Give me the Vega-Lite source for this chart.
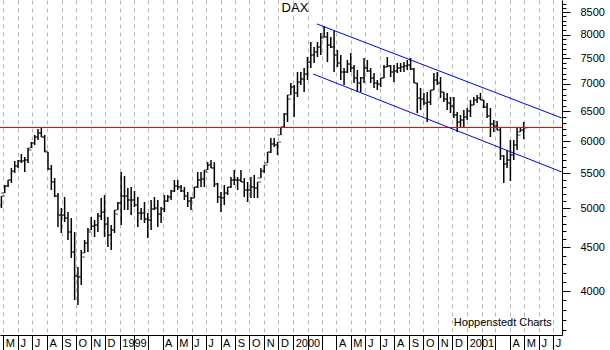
{
  "$schema": "https://vega.github.io/schema/vega-lite/v6.json",
  "width": 562,
  "height": 335,
  "autosize": {"type": "none"},
  "padding": {"left": 0, "top": 0, "right": 48, "bottom": 15},
  "background": "white",
  "config": {"view": {"stroke": null}, "font": "Liberation Sans"},
  "datasets": {
    "ohlc": [
      {"d":"1998-04-27","o":5047,"h":5171,"l":5006,"c":5171},
      {"d":"1998-05-04","o":5213,"h":5327,"l":5213,"c":5313},
      {"d":"1998-05-11","o":5313,"h":5400,"l":5299,"c":5400},
      {"d":"1998-05-18","o":5400,"h":5578,"l":5356,"c":5533},
      {"d":"1998-05-25","o":5533,"h":5685,"l":5503,"c":5608},
      {"d":"1998-06-01","o":5608,"h":5700,"l":5578,"c":5685},
      {"d":"1998-06-08","o":5685,"h":5793,"l":5654,"c":5685},
      {"d":"1998-06-15","o":5685,"h":5746,"l":5518,"c":5700},
      {"d":"1998-06-22","o":5700,"h":5888,"l":5654,"c":5856},
      {"d":"1998-06-29","o":5888,"h":5984,"l":5888,"c":5968},
      {"d":"1998-07-06","o":5968,"h":6098,"l":5936,"c":6065},
      {"d":"1998-07-13","o":6065,"h":6198,"l":6016,"c":6131},
      {"d":"1998-07-20","o":6131,"h":6215,"l":6065,"c":6065},
      {"d":"1998-07-27","o":6065,"h":6098,"l":5824,"c":5840},
      {"d":"1998-08-03","o":5824,"h":5824,"l":5548,"c":5563},
      {"d":"1998-08-10","o":5563,"h":5623,"l":5256,"c":5371},
      {"d":"1998-08-17","o":5371,"h":5429,"l":5157,"c":5171},
      {"d":"1998-08-24","o":5171,"h":5213,"l":4755,"c":4912},
      {"d":"1998-08-31","o":4912,"h":5006,"l":4679,"c":4912},
      {"d":"1998-09-07","o":4912,"h":5157,"l":4820,"c":4872},
      {"d":"1998-09-14","o":4872,"h":4952,"l":4591,"c":4692},
      {"d":"1998-09-21","o":4692,"h":4872,"l":4374,"c":4445},
      {"d":"1998-09-28","o":4445,"h":4692,"l":3904,"c":4166},
      {"d":"1998-10-05","o":4166,"h":4268,"l":3852,"c":4155},
      {"d":"1998-10-12","o":4155,"h":4469,"l":4066,"c":4385},
      {"d":"1998-10-19","o":4433,"h":4591,"l":4433,"c":4554},
      {"d":"1998-10-26","o":4554,"h":4743,"l":4445,"c":4692},
      {"d":"1998-11-02","o":4717,"h":4886,"l":4717,"c":4768},
      {"d":"1998-11-09","o":4768,"h":4846,"l":4629,"c":4781},
      {"d":"1998-11-16","o":4781,"h":4939,"l":4692,"c":4899},
      {"d":"1998-11-23","o":4899,"h":5144,"l":4846,"c":4952},
      {"d":"1998-11-30","o":4952,"h":5185,"l":4629,"c":4794},
      {"d":"1998-12-07","o":4794,"h":4886,"l":4506,"c":4654},
      {"d":"1998-12-14","o":4654,"h":4781,"l":4469,"c":4717},
      {"d":"1998-12-21","o":4717,"h":4979,"l":4679,"c":4925},
      {"d":"1998-12-28","o":4979,"h":5088,"l":4979,"c":5075},
      {"d":"1999-01-04","o":5075,"h":5518,"l":4781,"c":5171},
      {"d":"1999-01-11","o":5171,"h":5458,"l":4979,"c":5171},
      {"d":"1999-01-18","o":5171,"h":5284,"l":4979,"c":5116},
      {"d":"1999-01-25","o":5116,"h":5299,"l":4912,"c":5116},
      {"d":"1999-02-01","o":5116,"h":5242,"l":5020,"c":5047},
      {"d":"1999-02-08","o":5047,"h":5157,"l":4755,"c":4939},
      {"d":"1999-02-15","o":4939,"h":5006,"l":4846,"c":4939},
      {"d":"1999-02-22","o":4939,"h":5088,"l":4807,"c":4859},
      {"d":"1999-03-01","o":4859,"h":4939,"l":4616,"c":4846},
      {"d":"1999-03-08","o":4846,"h":5116,"l":4717,"c":4993},
      {"d":"1999-03-15","o":4993,"h":5157,"l":4979,"c":5006},
      {"d":"1999-03-22","o":5006,"h":5116,"l":4755,"c":4925},
      {"d":"1999-03-29","o":4925,"h":5020,"l":4807,"c":4993},
      {"d":"1999-04-05","o":4993,"h":5185,"l":4952,"c":5102},
      {"d":"1999-04-12","o":5102,"h":5185,"l":5088,"c":5157},
      {"d":"1999-04-19","o":5157,"h":5256,"l":5116,"c":5242},
      {"d":"1999-04-26","o":5242,"h":5400,"l":5228,"c":5313},
      {"d":"1999-05-03","o":5313,"h":5400,"l":5256,"c":5299},
      {"d":"1999-05-10","o":5299,"h":5327,"l":5228,"c":5242},
      {"d":"1999-05-17","o":5242,"h":5299,"l":5116,"c":5171},
      {"d":"1999-05-24","o":5171,"h":5228,"l":5020,"c":5102},
      {"d":"1999-05-31","o":5102,"h":5157,"l":4979,"c":5144},
      {"d":"1999-06-07","o":5144,"h":5299,"l":5144,"c":5299},
      {"d":"1999-06-14","o":5299,"h":5518,"l":5284,"c":5400},
      {"d":"1999-06-21","o":5400,"h":5518,"l":5299,"c":5415},
      {"d":"1999-06-28","o":5415,"h":5548,"l":5299,"c":5518},
      {"d":"1999-07-05","o":5548,"h":5669,"l":5548,"c":5623},
      {"d":"1999-07-12","o":5623,"h":5700,"l":5578,"c":5578},
      {"d":"1999-07-19","o":5578,"h":5669,"l":5299,"c":5342},
      {"d":"1999-07-26","o":5342,"h":5356,"l":5075,"c":5157},
      {"d":"1999-08-02","o":5157,"h":5228,"l":4952,"c":5144},
      {"d":"1999-08-09","o":5144,"h":5327,"l":5047,"c":5213},
      {"d":"1999-08-16","o":5213,"h":5299,"l":5185,"c":5299},
      {"d":"1999-08-23","o":5299,"h":5444,"l":5284,"c":5400},
      {"d":"1999-08-30","o":5400,"h":5548,"l":5327,"c":5400},
      {"d":"1999-09-06","o":5400,"h":5444,"l":5256,"c":5400},
      {"d":"1999-09-13","o":5400,"h":5548,"l":5371,"c":5371},
      {"d":"1999-09-20","o":5371,"h":5429,"l":5157,"c":5256},
      {"d":"1999-09-27","o":5256,"h":5371,"l":5088,"c":5256},
      {"d":"1999-10-04","o":5256,"h":5444,"l":5144,"c":5299},
      {"d":"1999-10-11","o":5299,"h":5473,"l":5144,"c":5284},
      {"d":"1999-10-18","o":5284,"h":5371,"l":5144,"c":5371},
      {"d":"1999-10-25","o":5429,"h":5578,"l":5429,"c":5533},
      {"d":"1999-11-01","o":5533,"h":5623,"l":5503,"c":5623},
      {"d":"1999-11-08","o":5654,"h":5824,"l":5654,"c":5824},
      {"d":"1999-11-15","o":5824,"h":6049,"l":5809,"c":5952},
      {"d":"1999-11-22","o":5952,"h":6049,"l":5904,"c":5936},
      {"d":"1999-11-29","o":5936,"h":5984,"l":5777,"c":5984},
      {"d":"1999-12-06","o":6098,"h":6231,"l":6098,"c":6231},
      {"d":"1999-12-13","o":6231,"h":6472,"l":6231,"c":6454},
      {"d":"1999-12-20","o":6454,"h":6794,"l":6316,"c":6721},
      {"d":"1999-12-27","o":6794,"h":7018,"l":6794,"c":6943},
      {"d":"2000-01-03","o":6943,"h":6980,"l":6402,"c":6831},
      {"d":"2000-01-10","o":6831,"h":7230,"l":6758,"c":7037},
      {"d":"2000-01-17","o":7037,"h":7230,"l":6980,"c":7094},
      {"d":"2000-01-24","o":7094,"h":7309,"l":6850,"c":7191},
      {"d":"2000-01-31","o":7191,"h":7529,"l":7075,"c":7428},
      {"d":"2000-02-07","o":7428,"h":7841,"l":7309,"c":7570},
      {"d":"2000-02-14","o":7570,"h":7735,"l":7408,"c":7632},
      {"d":"2000-02-21","o":7632,"h":7841,"l":7529,"c":7735},
      {"d":"2000-02-28","o":7735,"h":8034,"l":7570,"c":7926},
      {"d":"2000-03-06","o":7948,"h":8187,"l":7948,"c":7948},
      {"d":"2000-03-13","o":7948,"h":8056,"l":7428,"c":7777},
      {"d":"2000-03-20","o":7777,"h":7948,"l":7715,"c":7735},
      {"d":"2000-03-27","o":7735,"h":8077,"l":7230,"c":7570},
      {"d":"2000-04-03","o":7570,"h":7673,"l":7328,"c":7408},
      {"d":"2000-04-10","o":7408,"h":7570,"l":7075,"c":7230},
      {"d":"2000-04-17","o":7230,"h":7309,"l":6980,"c":7230},
      {"d":"2000-04-24","o":7230,"h":7468,"l":7211,"c":7388},
      {"d":"2000-05-01","o":7388,"h":7611,"l":7230,"c":7309},
      {"d":"2000-05-08","o":7309,"h":7368,"l":7018,"c":7114},
      {"d":"2000-05-15","o":7114,"h":7269,"l":6850,"c":7018},
      {"d":"2000-05-22","o":7018,"h":7133,"l":6850,"c":7114},
      {"d":"2000-05-29","o":7114,"h":7509,"l":7018,"c":7309},
      {"d":"2000-06-05","o":7309,"h":7468,"l":7230,"c":7250},
      {"d":"2000-06-12","o":7250,"h":7309,"l":7018,"c":7114},
      {"d":"2000-06-19","o":7114,"h":7211,"l":6924,"c":7018},
      {"d":"2000-06-26","o":7018,"h":7075,"l":6887,"c":6999},
      {"d":"2000-07-03","o":6999,"h":7114,"l":6943,"c":7114},
      {"d":"2000-07-10","o":7114,"h":7368,"l":7114,"c":7328},
      {"d":"2000-07-17","o":7328,"h":7529,"l":7328,"c":7348},
      {"d":"2000-07-24","o":7348,"h":7368,"l":7133,"c":7230},
      {"d":"2000-07-31","o":7230,"h":7368,"l":7037,"c":7250},
      {"d":"2000-08-07","o":7250,"h":7408,"l":7211,"c":7309},
      {"d":"2000-08-14","o":7309,"h":7408,"l":7230,"c":7328},
      {"d":"2000-08-21","o":7328,"h":7428,"l":7230,"c":7348},
      {"d":"2000-08-28","o":7348,"h":7468,"l":7269,"c":7368},
      {"d":"2000-09-04","o":7368,"h":7509,"l":7269,"c":7289},
      {"d":"2000-09-11","o":7289,"h":7309,"l":7018,"c":7018},
      {"d":"2000-09-18","o":7018,"h":7018,"l":6472,"c":6739},
      {"d":"2000-09-25","o":6739,"h":6924,"l":6524,"c":6721},
      {"d":"2000-10-02","o":6721,"h":6831,"l":6613,"c":6649},
      {"d":"2000-10-09","o":6649,"h":6850,"l":6316,"c":6667},
      {"d":"2000-10-16","o":6667,"h":6887,"l":6613,"c":6887},
      {"d":"2000-10-23","o":6887,"h":7211,"l":6887,"c":7075},
      {"d":"2000-10-30","o":7075,"h":7230,"l":6980,"c":7018},
      {"d":"2000-11-06","o":7018,"h":7133,"l":6739,"c":6850},
      {"d":"2000-11-13","o":6850,"h":6850,"l":6667,"c":6721},
      {"d":"2000-11-20","o":6721,"h":6831,"l":6524,"c":6649},
      {"d":"2000-11-27","o":6649,"h":6758,"l":6472,"c":6595},
      {"d":"2000-12-04","o":6595,"h":6758,"l":6385,"c":6437},
      {"d":"2000-12-11","o":6437,"h":6489,"l":6148,"c":6316},
      {"d":"2000-12-18","o":6316,"h":6437,"l":6215,"c":6350},
      {"d":"2000-12-25","o":6350,"h":6524,"l":6215,"c":6402},
      {"d":"2001-01-01","o":6402,"h":6560,"l":6350,"c":6507},
      {"d":"2001-01-08","o":6507,"h":6703,"l":6402,"c":6613},
      {"d":"2001-01-15","o":6613,"h":6758,"l":6613,"c":6703},
      {"d":"2001-01-22","o":6703,"h":6794,"l":6649,"c":6739},
      {"d":"2001-01-29","o":6739,"h":6831,"l":6703,"c":6703},
      {"d":"2001-02-05","o":6703,"h":6703,"l":6560,"c":6577},
      {"d":"2001-02-12","o":6577,"h":6649,"l":6385,"c":6420},
      {"d":"2001-02-19","o":6420,"h":6560,"l":6065,"c":6282},
      {"d":"2001-02-26","o":6282,"h":6350,"l":6148,"c":6248},
      {"d":"2001-03-05","o":6248,"h":6333,"l":6181,"c":6181},
      {"d":"2001-03-12","o":6181,"h":6231,"l":5700,"c":5762},
      {"d":"2001-03-19","o":5762,"h":5777,"l":5356,"c":5638},
      {"d":"2001-03-26","o":5638,"h":5856,"l":5578,"c":5700},
      {"d":"2001-04-02","o":5700,"h":6016,"l":5385,"c":5777},
      {"d":"2001-04-09","o":5777,"h":6016,"l":5700,"c":5936},
      {"d":"2001-04-16","o":5936,"h":6215,"l":5856,"c":6098},
      {"d":"2001-04-23","o":6148,"h":6215,"l":6148,"c":6181},
      {"d":"2001-04-30","o":6181,"h":6316,"l":6032,"c":6215}
    ],
    "chan": [
      {"d":"2000-02-20","v":8232,"g":"upper"},
      {"d":"2001-07-19","v":6385,"g":"upper"},
      {"d":"2000-02-12","v":7191,"g":"lower"},
      {"d":"2001-07-19","v":5518,"g":"lower"}
    ],
    "level": [{"v": 6223}]
  },
  "layer": [
    {
      "data": {"name": "ohlc"},
      "mark": {"type": "rule", "color": "black", "strokeWidth": 1.5},
      "encoding": {
        "x": {
          "field": "d", "type": "temporal",
          "scale": {"type": "utc", "domain": [{"year":1998,"month":4,"date":24,"utc":true},{"year":2001,"month":7,"date":19,"hours":14,"utc":true}]},
          "axis": {
            "title": null, "grid": true, "gridColor": "#b4b4b4", "gridDash": [4, 4], "gridWidth": 1,
            "tickCount": {"interval": "month", "step": 1},
            "tickSize": 15, "tickColor": "black", "domainColor": "black",
            "labelAlign": "left", "labelBaseline": "top", "labelPadding": -13, "labelOffset": 2,
            "labelFontSize": 11, "labelColor": "black", "labelFont": "Liberation Sans",
            "labelOverlap": false, "labelFlush": false, "labelBound": false,
            "labelExpr": "utcmonth(datum.value)==0 ? utcFormat(datum.value,'%Y') : (utcmonth(datum.value)<3 ? '' : substring(utcFormat(datum.value,'%b'),0,1))"
          }
        },
        "y": {
          "field": "h", "type": "quantitative",
          "scale": {"type": "log", "domain": [3552, 8783], "nice": false, "zero": false},
          "axis": {
            "orient": "right", "title": null, "grid": false, "format": "d",
            "values": [4000, 4500, 5000, 5500, 6000, 6500, 7000, 7500, 8000, 8500],
            "tickSize": 8, "tickColor": "black", "domainColor": "black",
            "labelPadding": 10, "labelFontSize": 11, "labelColor": "black", "labelFont": "Liberation Sans",
            "labelAlign": "left", "labelOverlap": false
          }
        },
        "y2": {"field": "l"}
      }
    },
    {
      "data": {"name": "ohlc"},
      "mark": {"type": "tick", "orient": "horizontal", "color": "black", "size": 3, "thickness": 1, "xOffset": -2},
      "encoding": {
        "x": {"field": "d", "type": "temporal"},
        "y": {"field": "o", "type": "quantitative", "axis": null}
      }
    },
    {
      "data": {"name": "ohlc"},
      "mark": {"type": "tick", "orient": "horizontal", "color": "black", "size": 3, "thickness": 1, "xOffset": 2},
      "encoding": {
        "x": {"field": "d", "type": "temporal"},
        "y": {"field": "c", "type": "quantitative", "axis": null}
      }
    },
    {
      "data": {"name": "level"},
      "mark": {"type": "rule", "color": "#ff0000", "strokeWidth": 1},
      "encoding": {
        "y": {
          "field": "v", "type": "quantitative",
          "axis": {
            "orient": "right", "title": null, "grid": false, "labels": false, "domain": false,
            "values": [3600,3700,3800,3900,4100,4200,4300,4400,4600,4700,4800,4900,5100,5200,5300,5400,5600,5700,5800,5900,6100,6200,6300,6400,6600,6700,6800,6900,7100,7200,7300,7400,7600,7700,7800,7900,8100,8200,8300,8400,8600,8700],
            "tickSize": 4, "tickColor": "black"
          }
        }
      }
    },
    {
      "data": {"name": "chan"},
      "mark": {"type": "line", "color": "#0000ff", "strokeWidth": 1},
      "encoding": {
        "x": {"field": "d", "type": "temporal"},
        "y": {"field": "v", "type": "quantitative", "axis": null},
        "detail": {"field": "g"}
      }
    },
    {
      "data": {"values": [{}]},
      "mark": {"type": "text", "align": "center", "baseline": "alphabetic", "fontSize": 13, "font": "Liberation Sans", "color": "black"},
      "encoding": {
        "x": {"datum": {"year":2000,"month":1,"date":4,"hours":17,"utc":true}, "type": "temporal"},
        "y": {"datum": 8500, "type": "quantitative", "axis": null},
        "text": {"value": "DAX"}
      }
    },
    {
      "data": {"values": [{}]},
      "mark": {"type": "text", "align": "center", "baseline": "alphabetic", "fontSize": 11, "font": "Liberation Sans", "color": "black"},
      "encoding": {
        "x": {"datum": {"year":2001,"month":3,"date":17,"utc":true}, "type": "temporal"},
        "y": {"datum": 3640, "type": "quantitative", "axis": null},
        "text": {"value": "Hoppenstedt Charts"}
      }
    }
  ],
  "resolve": {"axis": {"y": "independent"}}
}
